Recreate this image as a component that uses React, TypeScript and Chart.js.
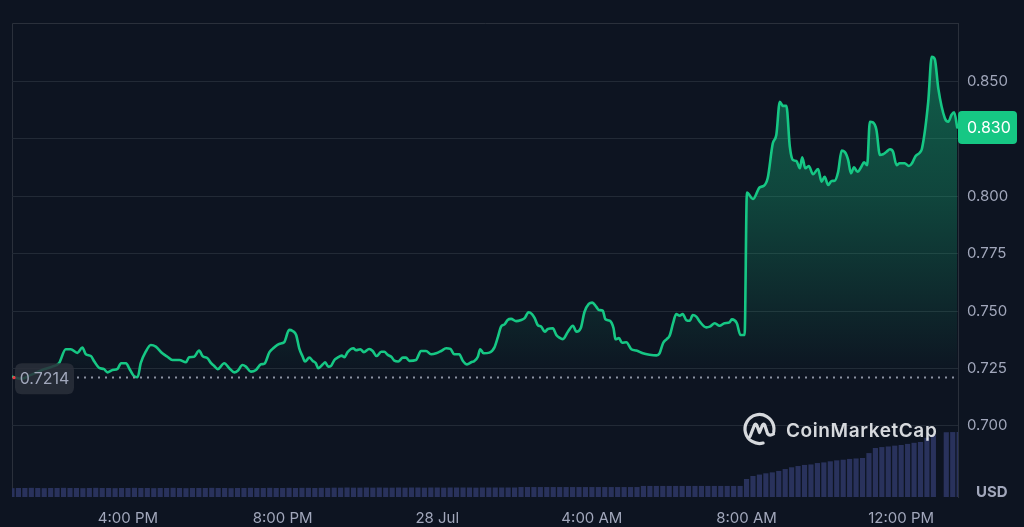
import React, { useEffect, useRef } from "react";
import { Chart, registerables } from "chart.js";
Chart.register(...registerables);

// Time of each price sample, in hours from 00:00 on 27 Jul (24 = 28 Jul 00:00)
const times = [
  13.00, 13.24, 13.49, 13.78, 14.04, 14.22, 14.39, 14.52, 14.69, 14.82,
  14.91, 15.04, 15.13, 15.25, 15.38, 15.47, 15.60, 15.73, 15.82, 15.95,
  16.03, 16.16, 16.25, 16.33, 16.46, 16.59, 16.72, 16.89, 17.02, 17.15,
  17.33, 17.50, 17.58, 17.71, 17.84, 17.93, 18.06, 18.15, 18.23, 18.32,
  18.49, 18.62, 18.75, 18.84, 18.96, 19.05, 19.18, 19.31, 19.44, 19.53,
  19.66, 19.78, 19.91, 20.04, 20.17, 20.26, 20.35, 20.43, 20.52, 20.58,
  20.69, 20.78, 20.86, 20.92, 21.04, 21.10, 21.18, 21.25, 21.34, 21.42,
  21.53, 21.60, 21.68, 21.83, 21.90, 22.01, 22.10, 22.24, 22.33, 22.43,
  22.55, 22.63, 22.72, 22.81, 22.89, 22.99, 23.11, 23.19, 23.28, 23.45,
  23.58, 23.71, 23.84, 23.97, 24.10, 24.23, 24.34, 24.44, 24.57, 24.66,
  24.77, 24.88, 24.96, 25.05, 25.11, 25.20, 25.35, 25.48, 25.57, 25.65,
  25.74, 25.82, 25.91, 26.04, 26.17, 26.26, 26.36, 26.45, 26.52, 26.60,
  26.69, 26.78, 26.86, 26.99, 27.08, 27.16, 27.25, 27.38, 27.51, 27.60,
  27.71, 27.81, 27.92, 28.01, 28.11, 28.18, 28.28, 28.35, 28.46, 28.56,
  28.61, 28.70, 28.78, 28.89, 29.02, 29.15, 29.32, 29.49, 29.67, 29.75,
  29.84, 29.93, 30.01, 30.10, 30.18, 30.27, 30.35, 30.44, 30.53, 30.61,
  30.70, 30.79, 30.96, 31.05, 31.18, 31.30, 31.43, 31.56, 31.62, 31.75,
  31.84, 31.95, 32.01, 32.17, 32.34, 32.45, 32.55, 32.68, 32.77, 32.86,
  32.94, 33.03, 33.12, 33.20, 33.29, 33.38, 33.44, 33.52, 33.61, 33.72,
  33.85, 33.94, 34.02, 34.11, 34.20, 34.28, 34.37, 34.46, 34.54, 34.63,
  34.70, 34.78, 34.87, 34.97, 35.04, 35.12, 35.19, 35.27, 35.36, 35.45,
  35.53, 35.62, 35.71, 35.79, 35.88, 35.96, 36.09, 36.20, 36.28, 36.37,
  36.48, 36.54, 36.70, 36.79, 36.87, 36.96, 37.13, 37.22, 37.30, 37.37,
  37.45,
];

// Price (USD) at each of the times above
const prices = [
  0.7214, 0.7205, 0.7222, 0.7243, 0.7258, 0.7274, 0.7334, 0.7334, 0.7318, 0.7341,
  0.7312, 0.7304, 0.7280, 0.7253, 0.7247, 0.7233, 0.7243, 0.7248, 0.7273, 0.7273,
  0.7251, 0.7216, 0.7212, 0.7273, 0.7323, 0.7352, 0.7345, 0.7316, 0.7301, 0.7287,
  0.7287, 0.7277, 0.7299, 0.7301, 0.7328, 0.7304, 0.7294, 0.7273, 0.7261, 0.7247,
  0.7273, 0.7251, 0.7233, 0.7240, 0.7265, 0.7258, 0.7236, 0.7243, 0.7268, 0.7271,
  0.7321, 0.7341, 0.7357, 0.7364, 0.7418, 0.7413, 0.7396, 0.7338, 0.7301, 0.7280,
  0.7297, 0.7283, 0.7273, 0.7251, 0.7268, 0.7277, 0.7258, 0.7261, 0.7287, 0.7297,
  0.7306, 0.7299, 0.7321, 0.7338, 0.7329, 0.7334, 0.7321, 0.7335, 0.7326, 0.7304,
  0.7323, 0.7323, 0.7309, 0.7301, 0.7284, 0.7280, 0.7297, 0.7297, 0.7283, 0.7287,
  0.7326, 0.7326, 0.7312, 0.7316, 0.7326, 0.7338, 0.7335, 0.7312, 0.7312, 0.7284,
  0.7268, 0.7277, 0.7283, 0.7301, 0.7334, 0.7316, 0.7319, 0.7342, 0.7388, 0.7432,
  0.7442, 0.7461, 0.7466, 0.7456, 0.7461, 0.7469, 0.7495, 0.7487, 0.7469, 0.7439,
  0.7432, 0.7410, 0.7422, 0.7425, 0.7396, 0.7384, 0.7378, 0.7410, 0.7436, 0.7410,
  0.7425, 0.7497, 0.7531, 0.7537, 0.7519, 0.7505, 0.7502, 0.7464, 0.7458, 0.7425,
  0.7377, 0.7382, 0.7362, 0.7364, 0.7334, 0.7328, 0.7316, 0.7310, 0.7307, 0.7316,
  0.7360, 0.7377, 0.7392, 0.7447, 0.7487, 0.7480, 0.7487, 0.7461, 0.7458, 0.7483,
  0.7476, 0.7454, 0.7429, 0.7432, 0.7447, 0.7436, 0.7447, 0.7451, 0.7464, 0.7447,
  0.7396, 0.7396, 0.8016, 0.7988, 0.8039, 0.8046, 0.8081, 0.8231, 0.8267, 0.8412,
  0.8394, 0.8394, 0.8216, 0.8158, 0.8154, 0.8122, 0.8170, 0.8122, 0.8132, 0.8096,
  0.8119, 0.8064, 0.8085, 0.8049, 0.8067, 0.8068, 0.8107, 0.8199, 0.8194, 0.8158,
  0.8100, 0.8126, 0.8107, 0.8129, 0.8148, 0.8136, 0.8325, 0.8322, 0.8289, 0.8180,
  0.8183, 0.8194, 0.8205, 0.8194, 0.8136, 0.8144, 0.8144, 0.8132, 0.8144, 0.8175,
  0.8190, 0.8209, 0.8412, 0.8608, 0.8597, 0.8470, 0.8340, 0.8325, 0.8354, 0.8366,
  0.8300,
];

// Volume bars (millions USD), one per 10 minutes starting at 13:00
const volumeStartHour = 13;
const volumeStepHours = 1 / 6;
const volumes = [
  5.6, 5.7, 5.7, 5.8, 5.7, 5.6, 5.7, 5.7, 5.8, 5.7,
  5.7, 5.6, 5.7, 5.8, 5.7, 5.7, 5.6, 5.7, 5.7, 5.8,
  5.7, 5.7, 5.6, 5.7, 5.7, 5.8, 5.7, 5.6, 5.7, 5.7,
  5.7, 5.8, 5.7, 5.7, 5.6, 5.7, 5.7, 5.8, 5.7, 5.7,
  5.8, 5.7, 5.7, 5.8, 5.7, 5.8, 5.8, 5.7, 5.8, 5.8,
  5.9, 5.9, 6.0, 5.9, 5.9, 6.0, 5.9, 6.0, 5.9, 5.9,
  6.0, 5.9, 6.0, 6.0, 5.9, 6.0, 6.0, 5.9, 6.0, 6.0,
  6.0, 6.0, 5.9, 6.0, 6.0, 6.0, 6.0, 6.0, 6.0,
  6.3, 6.3, 6.3, 6.3, 6.3, 6.3, 6.3, 6.3, 6.3, 6.3,
  6.3, 6.3, 6.3, 6.3, 6.3, 6.3, 6.3, 6.3, 6.3,
  7.0, 7.0, 7.0, 7.0, 7.0, 7.0, 7.0, 7.0, 7.0, 7.0,
  7.0, 7.0, 7.0, 7.0, 7.0, 7.0,
  11.4, 13.3, 14.2, 15.0, 15.6, 16.5, 17.7, 18.8, 19.6, 20.3,
  20.6, 21.5, 21.9, 22.6, 23.2, 23.6, 24.1, 24.4, 24.7, 27.8,
  31.0, 31.6, 32.0, 32.5, 32.9, 33.6, 34.3, 34.8, 37.5, 39.2,
  0, 41.0, 41.1, 41.2,
];

const yTickValues = [0.7, 0.725, 0.75, 0.775, 0.8, 0.825, 0.85];
const xTickHours = [16, 20, 24, 28, 32, 36];
const xTickLabels = ["4:00 PM", "8:00 PM", "28 Jul", "4:00 AM", "8:00 AM", "12:00 PM"];
const referencePrice = 0.7214;
const currentPrice = 0.83;
const currencyLabel = "USD";
const watermark = "CoinMarketCap";

const X_MIN = 13.0;
const X_MAX = 37.47;
const Y_MIN = 0.669;
const Y_MAX = 0.8755;
const VOL_MAX = 300;

const BG = "#0d1421";
const GREEN = "#16c784";
const RED = "#ea3943";
const GRID = "#222a36";
const FRAME = "#2a303b";
const TEXT = "#a1a7bb";
const VOL = "#29325c";
const FONT = "Inter, 'Noto Sans', sans-serif";

function roundRect(ctx: CanvasRenderingContext2D, x: number, y: number, w: number, h: number, r: number) {
  ctx.beginPath();
  ctx.moveTo(x + r, y);
  ctx.lineTo(x + w - r, y);
  ctx.quadraticCurveTo(x + w, y, x + w, y + r);
  ctx.lineTo(x + w, y + h - r);
  ctx.quadraticCurveTo(x + w, y + h, x + w - r, y + h);
  ctx.lineTo(x + r, y + h);
  ctx.quadraticCurveTo(x, y + h, x, y + h - r);
  ctx.lineTo(x, y + r);
  ctx.quadraticCurveTo(x, y, x + r, y);
  ctx.closePath();
}

const backgroundPlugin = {
  id: "bg",
  beforeDraw(chart: any) {
    const { ctx, width, height, chartArea: a } = chart;
    ctx.save();
    ctx.fillStyle = BG;
    ctx.fillRect(0, 0, width, height);
    ctx.strokeStyle = FRAME;
    ctx.lineWidth = 1;
    ctx.beginPath();
    ctx.moveTo(a.left + 0.5, a.bottom);
    ctx.lineTo(a.left + 0.5, a.top + 0.5);
    ctx.lineTo(a.right, a.top + 0.5);
    ctx.stroke();
    ctx.restore();
  },
};

const overlayPlugin = {
  id: "overlay",
  afterDatasetsDraw(chart: any) {
    const { ctx, chartArea: a, scales } = chart;
    const yRef = Math.round(scales.y.getPixelForValue(referencePrice)) + 0.5;
    ctx.save();
    // dotted reference line
    ctx.strokeStyle = "#8b92a2";
    ctx.lineWidth = 2;
    ctx.setLineDash([2, 5]);
    ctx.beginPath();
    ctx.moveTo(a.left + 65, yRef);
    ctx.lineTo(a.right, yRef);
    ctx.stroke();
    ctx.setLineDash([]);

    // watermark logo
    const cx = 759.5;
    const cy = 429;
    ctx.strokeStyle = "rgba(236,238,242,0.9)";
    ctx.fillStyle = "rgba(236,238,242,0.9)";
    ctx.lineWidth = 3.2;
    ctx.lineCap = "round";
    ctx.lineJoin = "round";
    ctx.beginPath();
    ctx.arc(cx, cy, 14.5, 0.42 * Math.PI, 2.06 * Math.PI);
    ctx.stroke();
    ctx.beginPath();
    ctx.moveTo(cx - 9.5, cy + 7.5);
    ctx.lineTo(cx - 5, cy - 4);
    ctx.quadraticCurveTo(cx - 4, cy - 6, cx - 2.8, cy - 4);
    ctx.lineTo(cx, cy + 3.5);
    ctx.lineTo(cx + 3, cy - 4);
    ctx.quadraticCurveTo(cx + 4.2, cy - 6, cx + 5.2, cy - 4);
    ctx.lineTo(cx + 8, cy + 4.5);
    ctx.quadraticCurveTo(cx + 10, cy + 7.5, cx + 14, cy + 5);
    ctx.stroke();
    ctx.font = `600 19px ${FONT}`;
    (ctx as any).letterSpacing = "0.6px";
    ctx.textAlign = "left";
    ctx.textBaseline = "alphabetic";
    ctx.fillText(watermark, 786, 437);
    (ctx as any).letterSpacing = "0px";
    ctx.restore();
  },
  afterDraw(chart: any) {
    const { ctx, chartArea: a, scales } = chart;
    ctx.save();
    // reference price label (left)
    const yRef = scales.y.getPixelForValue(referencePrice);
    ctx.fillStyle = "rgba(42,47,58,0.85)";
    roundRect(ctx, a.left + 3, yRef - 13.5, 59, 31, 7);
    ctx.fill();
    ctx.fillStyle = TEXT;
    ctx.font = `400 16px ${FONT}`;
    ctx.textAlign = "center";
    ctx.textBaseline = "middle";
    ctx.fillText(referencePrice.toFixed(4), a.left + 32.5, yRef + 2.5);
    ctx.fillStyle = RED;
    ctx.beginPath();
    ctx.arc(a.left + 2, yRef + 1, 1.6, 0, Math.PI * 2);
    ctx.fill();

    // current price label (right)
    const yCur = scales.y.getPixelForValue(currentPrice);
    ctx.fillStyle = GREEN;
    roundRect(ctx, a.right, yCur - 16.5, 59, 33, 4);
    ctx.fill();
    ctx.fillStyle = "#ffffff";
    ctx.font = `400 16px ${FONT}`;
    ctx.textAlign = "left";
    ctx.fillText(currentPrice.toFixed(3), a.right + 9, yCur + 1);

    // currency
    ctx.fillStyle = TEXT;
    ctx.font = `700 15px ${FONT}`;
    ctx.textAlign = "left";
    ctx.textBaseline = "alphabetic";
    ctx.fillText(currencyLabel, a.right + 18, a.bottom);
    ctx.restore();
  },
};

export default function App() {
  const canvasRef = useRef<HTMLCanvasElement | null>(null);

  useEffect(() => {
    document.body.style.margin = "0";
    document.body.style.background = BG;
    const canvas = canvasRef.current;
    if (!canvas) return;

    const priceData = times.map((t, i) => ({ x: t, y: prices[i] }));
    const volumeData = volumes.map((v, i) => ({ x: volumeStartHour + i * volumeStepHours, y: v }));

    const gradient = (c: any) => {
      const chart = c.chart;
      const a = chart.chartArea;
      if (!a) return "rgba(0,0,0,0)";
      const yRef = chart.scales.y.getPixelForValue(referencePrice);
      const g = chart.ctx.createLinearGradient(0, a.top, 0, yRef);
      g.addColorStop(0, "rgba(22,199,132,0.45)");
      g.addColorStop(0.5, "rgba(22,199,132,0.27)");
      g.addColorStop(1, "rgba(22,199,132,0.0)");
      return g;
    };

    const chart = new Chart(canvas, {
      type: "line",
      data: {
        datasets: [
          {
            type: "line",
            data: priceData,
            yAxisID: "y",
            xAxisID: "x",
            order: 1,
            borderColor: GREEN,
            borderWidth: 2.6,
            pointRadius: 0,
            cubicInterpolationMode: "monotone",
            borderJoinStyle: "round",
            borderCapStyle: "round",
            fill: { target: { value: referencePrice }, above: gradient, below: "rgba(0,0,0,0)" },
          } as any,
          {
            type: "bar",
            data: volumeData,
            yAxisID: "vol",
            xAxisID: "x",
            order: 0,
            backgroundColor: VOL,
            borderWidth: 0,
            barPercentage: 0.8,
            categoryPercentage: 1,
          } as any,
        ],
      },
      options: {
        animation: false,
        responsive: true,
        maintainAspectRatio: false,
        layout: { padding: { left: 12, top: 23, right: 0, bottom: 0 } },
        plugins: { legend: { display: false }, tooltip: { enabled: false } },
        scales: {
          x: {
            type: "linear",
            min: X_MIN,
            max: X_MAX,
            offset: false,
            grid: { display: false, drawTicks: false },
            border: { display: false },
            afterBuildTicks: (s: any) => {
              s.ticks = xTickHours.map((v) => ({ value: v }));
            },
            afterFit: (s: any) => {
              s.height = 30;
            },
            ticks: {
              autoSkip: false,
              maxRotation: 0,
              padding: 12,
              color: TEXT,
              font: { family: FONT, size: 15 },
              callback: (v: any) => {
                const i = xTickHours.indexOf(Number(v));
                return i >= 0 ? xTickLabels[i] : "";
              },
            },
          },
          y: {
            type: "linear",
            position: "right",
            min: Y_MIN,
            max: Y_MAX,
            grid: { color: GRID, drawTicks: false, lineWidth: 1 },
            border: { display: true, color: FRAME },
            afterBuildTicks: (s: any) => {
              s.ticks = yTickValues.map((v) => ({ value: v }));
            },
            afterFit: (s: any) => {
              s.width = 66;
            },
            ticks: {
              padding: 9,
              color: TEXT,
              font: { family: FONT, size: 15 },
              callback: (v: any) =>
                Math.abs(Number(v) - currentPrice) < 0.008 ? "" : Number(v).toFixed(3),
            },
          },
          vol: {
            type: "linear",
            display: false,
            min: 0,
            max: VOL_MAX,
          },
        },
      },
      plugins: [backgroundPlugin, overlayPlugin],
    } as any);

    return () => chart.destroy();
  }, []);

  return (
    <div style={{ width: 1024, height: 527, position: "relative", background: BG }}>
      <canvas ref={canvasRef} />
    </div>
  );
}
